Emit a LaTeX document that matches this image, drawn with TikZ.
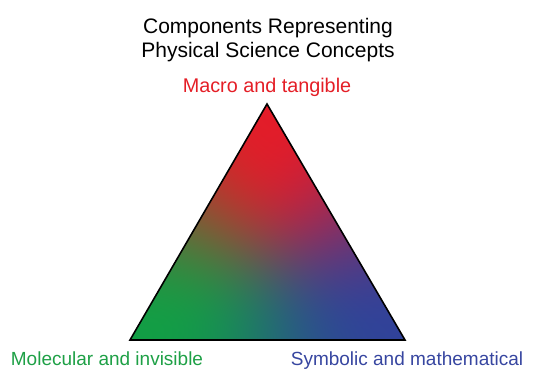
\documentclass[tikz,border=0pt]{standalone}
\usepackage{fontspec}
\setmainfont{Liberation Sans}
\definecolor{tred}{RGB}{228,30,38}
\definecolor{lgreen}{RGB}{30,160,70}
\definecolor{lblue}{RGB}{55,70,160}
\pgfdeclarefunctionalshading{bary}{\pgfpointorigin}{\pgfpoint{100bp}{100bp}}{}{
25 sub 50 div
dup abs add 2 div
exch 1 index 25 mul sub 25 sub 50 div
dup abs add 2 div
2 copy add 1 exch sub
dup abs add 2 div
2.0 exp 3 1 roll
2.0 exp 3 1 roll
2.0 exp 3 1 roll
3 copy add add 0.0001 add
4 1 roll
3 index div 3 1 roll
3 index div 3 1 roll
3 index div
4 -1 roll pop
2 index 0.19 mul 2 index 0.07 mul add 1 index 0.89 mul add
3 index 0.26 mul 3 index 0.62 mul add 2 index 0.11 mul add
4 index 0.60 mul 4 index 0.27 mul add 3 index 0.16 mul add
6 3 roll pop pop pop
}
\tikzset{lbl/.style={inner sep=0pt, anchor=base}}
\begin{document}
\begin{tikzpicture}[x=1pt,y=-1pt]
\useasboundingbox (0,0) rectangle (547,370);
\coordinate (A) at (267,104);
\coordinate (L) at (130,340);
\coordinate (R) at (405,340);
\shade[shading=bary] (A) -- (L) -- (R) -- cycle;
\draw[line width=1.6pt, line join=miter] (A) -- (L) -- (R) -- cycle;
\node[lbl, align=center, font=\fontsize{21}{24}\selectfont] (title) at (268,57) {Components Representing\\Physical Science Concepts};
\node[lbl, text=tred, font=\fontsize{19.8}{24}\selectfont] (macro) at (267,92) {Macro and tangible};
\node[lbl, text=lgreen, font=\fontsize{19}{24}\selectfont] (mol) at (107,365) {Molecular and invisible};
\node[lbl, text=lblue, font=\fontsize{19}{24}\selectfont] (sym) at (407,365) {Symbolic and mathematical};
\end{tikzpicture}
\end{document}
